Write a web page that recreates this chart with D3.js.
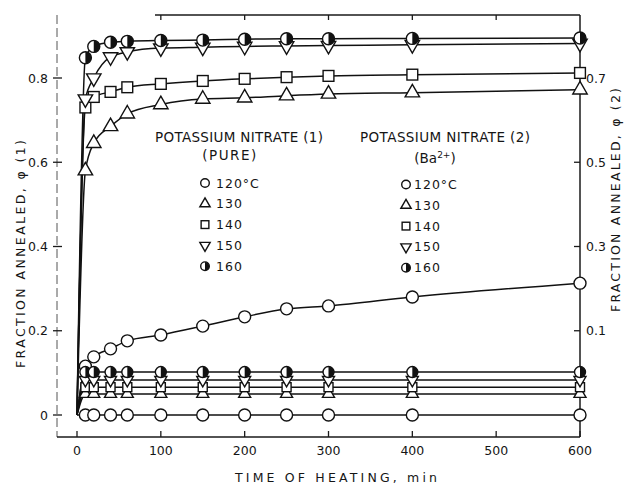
<!DOCTYPE html>
<html lang="en">
<head>
<meta charset="UTF-8">
<title>Fraction annealed vs time of heating</title>
<script src="https://d3js.org/d3.v7.min.js"></script>
<style>
  body { margin: 0; background: #fff; }
  svg text { font-family: "DejaVu Sans", sans-serif; fill: #151515; }
  .frame { fill: none; stroke: #1a1a1a; stroke-width: 1.5; }
  .curve { fill: none; stroke: #111; stroke-width: 1.5; }
  .mark { fill: #fff; stroke: #111; stroke-width: 1.4; }
  .tick { stroke: #1a1a1a; stroke-width: 1.3; }
  .tick-label { font-size: 12.5px; }
  .axis-title { font-size: 12.5px; }
  .legend-title { font-size: 13.5px; }
  .legend-item { font-size: 12.5px; }
</style>
</head>
<body>
<script>
// time of heating (min); every curve leaves the origin
var times = [0, 10, 20, 40, 60, 100, 150, 200, 250, 300, 400, 600];

// upper family (fraction annealed read on the left scale)
var upper160 = [0, 0.848, 0.875, 0.885, 0.887, 0.889, 0.890, 0.892, 0.893, 0.893, 0.894, 0.895];
var upper150 = [0, 0.750, 0.800, 0.850, 0.862, 0.871, 0.873, 0.875, 0.876, 0.877, 0.879, 0.882];
var upper140 = [0, 0.730, 0.755, 0.767, 0.778, 0.786, 0.793, 0.798, 0.802, 0.805, 0.808, 0.812];
var upper130 = [0, 0.580, 0.645, 0.685, 0.715, 0.737, 0.750, 0.753, 0.758, 0.762, 0.765, 0.772];
var upper120 = [0, 0.116, 0.138, 0.157, 0.176, 0.190, 0.211, 0.233, 0.252, 0.259, 0.280, 0.313];

// lower family (flat curves near zero)
var lower160 = [0, 0.102, 0.102, 0.102, 0.102, 0.102, 0.102, 0.102, 0.102, 0.102, 0.102, 0.102];
var lower150 = [0, 0.083, 0.083, 0.083, 0.083, 0.083, 0.083, 0.083, 0.083, 0.083, 0.083, 0.083];
var lower140 = [0, 0.066, 0.066, 0.066, 0.066, 0.066, 0.066, 0.066, 0.066, 0.066, 0.066, 0.066];
var lower130 = [0, 0.050, 0.050, 0.050, 0.050, 0.050, 0.050, 0.050, 0.050, 0.050, 0.050, 0.050];
var lower120 = [0, 0, 0, 0, 0, 0, 0, 0, 0, 0, 0, 0];

var tempLabels = ["120°C", "130", "140", "150", "160"];
var symbolTypes = ["circle", "triangle", "square", "down", "half"];

var xTicks = [0, 100, 200, 300, 400, 500, 600];
var leftTicks = [0, 0.2, 0.4, 0.6, 0.8];
var rightTicks = [0.1, 0.3, 0.5, 0.7];

var width = 627, height = 484;
var svg = d3.select("body").append("svg")
    .attr("width", width)
    .attr("height", height);

var x = d3.scaleLinear().domain([0, 600]).range([77, 580]);
var y = d3.scaleLinear().domain([0, 0.8]).range([415, 78]);
var yRight = d3.scaleLinear().domain([0.1, 0.7]).range([y(0.2), y(0.8)]);

var frameLeft = 57, frameRight = 580, frameTop = 15, frameBottom = 437;

// frame
svg.append("line").attr("class", "frame")
    .attr("x1", frameLeft).attr("x2", frameLeft)
    .attr("y1", frameTop).attr("y2", frameBottom)
    .style("stroke-dasharray", "9,4").style("stroke", "#555").style("stroke-width", 1);
svg.append("line").attr("class", "frame")
    .attr("x1", frameLeft).attr("x2", frameRight)
    .attr("y1", frameBottom).attr("y2", frameBottom);
svg.append("line").attr("class", "frame")
    .attr("x1", frameRight).attr("x2", frameRight)
    .attr("y1", frameTop).attr("y2", frameBottom);
svg.append("line").attr("class", "frame")
    .attr("x1", 155).attr("x2", frameRight)
    .attr("y1", frameTop).attr("y2", frameTop);

// x ticks, bottom and top
xTicks.forEach(function(t) {
    svg.append("line").attr("class", "tick")
        .attr("x1", x(t)).attr("x2", x(t))
        .attr("y1", frameBottom).attr("y2", frameBottom - 6);
    if (t > 0 && t < 600) {
        svg.append("line").attr("class", "tick")
            .attr("x1", x(t)).attr("x2", x(t))
            .attr("y1", frameTop).attr("y2", frameTop + 5);
    }
    svg.append("text").attr("class", "tick-label")
        .attr("x", x(t)).attr("y", 455)
        .attr("text-anchor", "middle")
        .text(t);
});

// left ticks
leftTicks.forEach(function(v) {
    svg.append("line").attr("class", "tick")
        .attr("x1", frameLeft - 4).attr("x2", frameLeft + 5)
        .attr("y1", y(v)).attr("y2", y(v));
    svg.append("text").attr("class", "tick-label")
        .attr("x", 48).attr("y", y(v)).attr("dy", "0.36em")
        .attr("text-anchor", "end")
        .text(v === 0 ? "0" : v.toFixed(1));
});

// right ticks
rightTicks.forEach(function(v) {
    svg.append("line").attr("class", "tick")
        .attr("x1", frameRight - 6).attr("x2", frameRight)
        .attr("y1", yRight(v)).attr("y2", yRight(v));
    svg.append("text").attr("class", "tick-label")
        .attr("x", 586).attr("y", yRight(v)).attr("dy", "0.36em")
        .text(v.toFixed(1));
});

// axis titles
svg.append("text").attr("class", "axis-title")
    .attr("x", 336).attr("y", 482)
    .attr("text-anchor", "middle")
    .attr("textLength", 202).attr("lengthAdjust", "spacing")
    .text("TIME OF HEATING, min");

svg.append("text").attr("class", "axis-title")
    .attr("transform", "translate(25,254) rotate(-90)")
    .attr("text-anchor", "middle")
    .attr("textLength", 228).attr("lengthAdjust", "spacing")
    .text("FRACTION ANNEALED, φ (1)");

svg.append("text").attr("class", "axis-title")
    .attr("transform", "translate(620,200) rotate(-90)")
    .attr("text-anchor", "middle")
    .attr("textLength", 224).attr("lengthAdjust", "spacing")
    .text("FRACTION ANNEALED, φ (2)");

// markers
function drawMark(g, type, r) {
    if (type === "circle" || type === "half") {
        g.append("circle").attr("class", "mark").attr("r", r);
        if (type === "half") {
            g.append("path")
                .attr("d", "M0," + (-r) + "A" + r + "," + r + " 0 0 1 0," + r + "Z")
                .attr("fill", "#111");
        }
    } else if (type === "square") {
        g.append("rect").attr("class", "mark")
            .attr("x", -r * 0.9).attr("y", -r * 0.9)
            .attr("width", r * 1.8).attr("height", r * 1.8);
    } else {
        var tri = d3.symbol().type(d3.symbolTriangle).size(r * r * 2.5);
        g.append("path").attr("class", "mark")
            .attr("d", tri())
            .attr("transform", type === "down" ? "rotate(180)" : null);
    }
}

var line = d3.line()
    .x(function(d) { return x(d[0]); })
    .y(function(d) { return y(d[1]); })
    .curve(d3.curveMonotoneX);

var series = [
    { vals: upper120, type: "circle", r: 6 },
    { vals: upper130, type: "triangle", r: 6 },
    { vals: upper140, type: "square", r: 6 },
    { vals: upper150, type: "down", r: 6 },
    { vals: upper160, type: "half", r: 6 },
    { vals: lower120, type: "circle", r: 6 },
    { vals: lower130, type: "triangle", r: 5 },
    { vals: lower140, type: "square", r: 5 },
    { vals: lower150, type: "down", r: 5 },
    { vals: lower160, type: "half", r: 5.5 }
];

series.forEach(function(s) {
    var pts = times.map(function(t, i) { return [t, s.vals[i]]; });
    svg.append("path").attr("class", "curve").attr("d", line(pts));
});

series.forEach(function(s) {
    var pts = times.map(function(t, i) { return [t, s.vals[i]]; }).filter(function(p) { return p[0] > 0; });
    pts.forEach(function(p) {
        var g = svg.append("g").attr("transform", "translate(" + x(p[0]) + "," + y(p[1]) + ")");
        drawMark(g, s.type, s.r);
    });
});

// legends
function legend(titleX, titleLen, titleText, symX, textX, top) {
    svg.append("text").attr("class", "legend-title")
        .attr("x", titleX).attr("y", 142)
        .attr("text-anchor", "middle")
        .attr("textLength", titleLen).attr("lengthAdjust", "spacing")
        .text(titleText);
    tempLabels.forEach(function(lab, i) {
        var yy = top + i * 20.8;
        var g = svg.append("g").attr("transform", "translate(" + symX + "," + yy + ")");
        drawMark(g, symbolTypes[i], 4.3);
        svg.append("text").attr("class", "legend-item")
            .attr("x", textX).attr("y", yy).attr("dy", "0.36em")
            .attr("letter-spacing", "1px")
            .text(lab);
    });
}

legend(239, 168, "POTASSIUM NITRATE (1)", 205, 216, 183);
legend(445, 170, "POTASSIUM NITRATE (2)", 406, 414, 184.5);

svg.append("text").attr("class", "legend-title")
    .attr("x", 230).attr("y", 160)
    .attr("text-anchor", "middle")
    .attr("letter-spacing", "1.5px")
    .text("(PURE)");

var ba = svg.append("text").attr("class", "legend-title")
    .attr("x", 435).attr("y", 163)
    .attr("text-anchor", "middle");
ba.append("tspan").text("(Ba");
ba.append("tspan").attr("dy", -5).attr("font-size", "9px").text("2+");
ba.append("tspan").attr("dy", 5).text(")");
</script>
</body>
</html>
